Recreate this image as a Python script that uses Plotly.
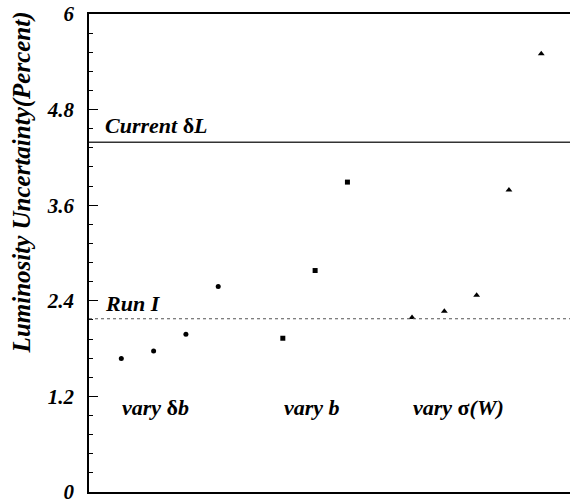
import plotly.graph_objects as go

# Luminosity uncertainty (percent) for each scan
vary_db_x = [1, 2, 3, 4]
vary_db_y = [1.675, 1.77, 1.98, 2.58]

vary_b_x = [6, 7, 8]
vary_b_y = [1.93, 2.78, 3.89]

vary_sw_x = [10, 11, 12, 13, 14]
vary_sw_y = [2.19, 2.27, 2.47, 3.79, 5.5]

current_dl = 4.39
run_one = 2.175

y_ticks = [0, 1.2, 2.4, 3.6, 4.8, 6]
y_tick_labels = ["<b><i>0</i></b>", "<b><i>1.2</i></b>", "<b><i>2.4</i></b>",
                 "<b><i>3.6</i></b>", "<b><i>4.8</i></b>", "<b><i>6</i></b>"]

ink = "black"
serif = "Liberation Serif, DejaVu Serif"

fig = go.Figure()

fig.add_trace(go.Scatter(x=vary_db_x, y=vary_db_y, mode="markers",
                         marker=dict(symbol="circle", size=5, color=ink),
                         showlegend=False))
fig.add_trace(go.Scatter(x=vary_b_x, y=vary_b_y, mode="markers",
                         marker=dict(symbol="square", size=5, color=ink),
                         showlegend=False))
fig.add_trace(go.Scatter(x=vary_sw_x, y=vary_sw_y, mode="markers",
                         marker=dict(symbol="triangle-up", size=6, color=ink),
                         showlegend=False))

# Reference levels
fig.add_shape(type="line", xref="paper", x0=0, x1=1, y0=current_dl, y1=current_dl,
              line=dict(color="#333333", width=1.5))
fig.add_shape(type="line", xref="paper", x0=0, x1=1, y0=run_one, y1=run_one,
              line=dict(color="#555555", width=1.2, dash="3px,3px"))

label_font = dict(family=serif, size=22, color=ink)

def label(x, y, text):
    fig.add_annotation(x=x, y=y, text="<b><i>" + text + "</i></b>", showarrow=False,
                       xanchor="left", yanchor="middle", font=label_font,
                       borderpad=0)

label(0.47, 4.6, "Current <span style='font-style:normal'>δ</span>L")
label(0.47, 2.37, "Run I")
label(0.99, 1.06, "vary <span style='font-style:normal'>δ</span>b")
label(5.99, 1.06, "vary b")
label(9.99, 1.06, "vary <span style='font-style:normal'>σ</span>(W)")

# Rotated y-axis title
fig.add_annotation(xref="paper", yref="paper", x=-0.14, y=0.647,
                   text="<b><i>Luminosity Uncertainty(Percent)</i></b>", textangle=-90,
                   showarrow=False, xanchor="center", yanchor="middle",
                   font=dict(family=serif, size=25, color=ink))

fig.update_layout(
    width=570, height=504,
    margin=dict(l=89, r=0, t=14, b=10),
    paper_bgcolor="white", plot_bgcolor="white",
    font=dict(family=serif),
    xaxis=dict(range=[0, 14.89], showgrid=False, zeroline=False,
               showticklabels=False, ticks="", showline=True, mirror=True,
               linecolor=ink, linewidth=1.5),
    yaxis=dict(range=[0, 6], showgrid=False, zeroline=False,
               tickmode="array", tickvals=y_ticks, ticktext=y_tick_labels,
               ticks="inside", ticklen=9, tickwidth=1, tickcolor=ink,
               minor=dict(dtick=0.24, ticks="inside", ticklen=4, tickcolor=ink,
                          showgrid=False),
               showline=True, mirror=False, linecolor=ink, linewidth=1.5,
               tickfont=dict(family=serif, size=21, color=ink),
               ticklabeloverflow="allow",
               ticklabelstandoff=9),
)

fig.write_html("out.html")
